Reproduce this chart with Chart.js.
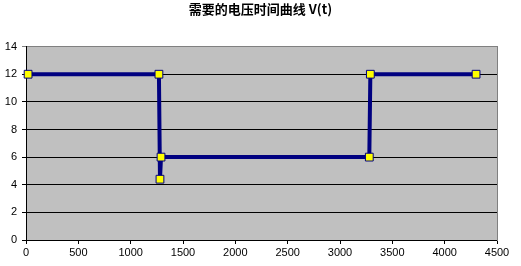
<!DOCTYPE html>
<html>
<head>
<meta charset="utf-8">
<script src="https://cdn.jsdelivr.net/npm/chart.js@4/dist/chart.umd.min.js"></script>
<style>
  html, body { margin: 0; padding: 0; background: #fff; }
  #wrap { width: 521px; height: 266px; }
</style>
</head>
<body>
<div id="wrap"><canvas id="vtChart" width="521" height="266"></canvas></div>
<script>
const chartTitle = "需要的电压时间曲线 V(t)";
const timeValues = [20, 1270, 1280, 1290, 3280, 3290, 4300];
const voltageValues = [12, 12, 4.4, 6, 6, 12, 12];
const xTicks = [0, 500, 1000, 1500, 2000, 2500, 3000, 3500, 4000, 4500];
const yTicks = [0, 2, 4, 6, 8, 10, 12, 14];

const points = timeValues.map((t, i) => ({ x: t, y: voltageValues[i] }));

// gray plot area like the original
const plotBg = {
  id: "plotBg",
  beforeDraw(chart) {
    const { ctx, chartArea: a } = chart;
    ctx.save();
    ctx.fillStyle = "#C0C0C0";
    ctx.fillRect(a.left, a.top, a.right - a.left, a.bottom - a.top);
    ctx.restore();
  }
};

const tickFont = { family: "Arial, 'Liberation Sans', sans-serif", size: 11 };

new Chart(document.getElementById("vtChart"), {
  type: "scatter",
  data: {
    datasets: [{
      data: points,
      showLine: true,
      clip: false,
      borderColor: "#000080",
      borderWidth: 4,
      pointStyle: "rect",
      pointRadius: 5.5,
      pointHoverRadius: 5.5,
      pointBackgroundColor: "#FFFF00",
      pointBorderColor: "#000080",
      pointBorderWidth: 1
    }]
  },
  options: {
    responsive: false,
    animation: false,
    layout: { padding: 0 },
    plugins: {
      legend: { display: false },
      tooltip: { enabled: false },
      title: {
        display: true,
        text: chartTitle,
        color: "#000",
        font: { family: "'Noto Sans CJK SC', sans-serif", size: 13, weight: "bold" },
        padding: { top: 1, bottom: 30 }
      }
    },
    scales: {
      x: {
        type: "linear",
        min: 0,
        max: 4500,
        afterBuildTicks: s => { s.ticks = xTicks.map(v => ({ value: v })); },
        afterFit: s => { s.height = 26; },
        grid: { display: true, drawOnChartArea: false, tickLength: 4, color: "#000" },
        border: { color: "#000", width: 1 },
        ticks: { color: "#000", font: tickFont, padding: 2, maxRotation: 0, callback: v => String(v) }
      },
      y: {
        min: 0,
        max: 14,
        afterBuildTicks: s => { s.ticks = yTicks.map(v => ({ value: v })); },
        afterFit: s => { s.width = 26; },
        grid: {
          tickLength: 4,
          color: c => (c.tick && c.tick.value === 14 ? "#808080" : "#000")
        },
        border: { color: "#000", width: 1 },
        ticks: { color: "#000", font: tickFont, padding: 5, callback: v => String(v) }
      },
      y2: {
        position: "right",
        min: 0,
        max: 14,
        afterFit: s => { s.width = 24; },
        grid: { display: false },
        border: { color: "#808080", width: 1 },
        ticks: { display: false }
      }
    }
  },
  plugins: [plotBg]
});
</script>
</body>
</html>
